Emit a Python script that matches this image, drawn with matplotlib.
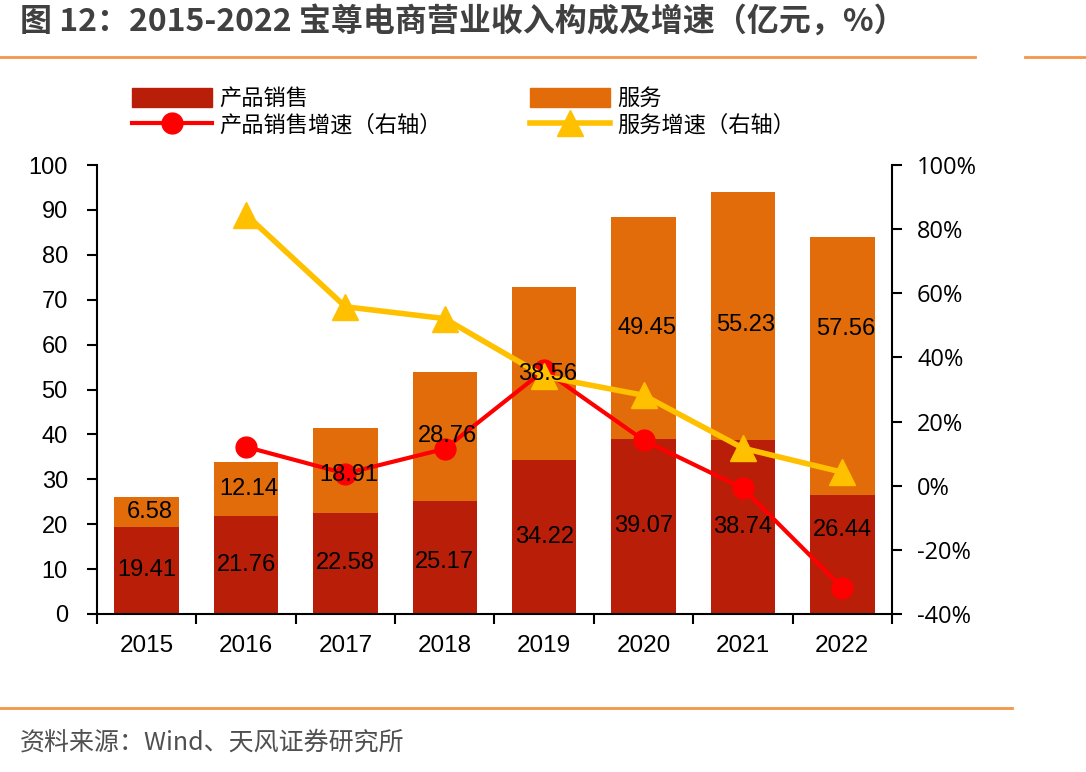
import numpy as np
import matplotlib
matplotlib.use("Agg")
import matplotlib.pyplot as plt
from matplotlib.lines import Line2D
from matplotlib.patches import Patch
from matplotlib.ticker import FuncFormatter, FixedLocator

# ── data ──────────────────────────────────────────────────────────────────────
years        = ["2015", "2016", "2017", "2018", "2019", "2020", "2021", "2022"]
product      = [19.41, 21.76, 22.58, 25.17, 34.22, 39.07, 38.74, 26.44]
service      = [6.58, 12.14, 18.91, 28.76, 38.56, 49.45, 55.23, 57.56]
product_gr   = [np.nan, 12.1, 3.8, 11.5, 36.0, 14.2, -0.8, -31.8]   # %
service_gr   = [np.nan, 84.5, 55.8, 52.1, 34.1, 28.2, 11.7, 4.2]    # %

# label nudges (the original moved a few labels by hand)
prod_lbl_dy = [0, 0, 0, -1, 0, 0, 0, 5.5]
serv_lbl_dy = [0, 0, -1, 0, 0, 0, -2, 8.3]

C_PROD  = "#B91E08"
C_SERV  = "#E36C0A"
C_PLINE = "#FF0000"
C_SLINE = "#FFC000"

CJK  = ["Noto Sans CJK SC", "DejaVu Sans"]
NUM  = ["Liberation Sans", "DejaVu Sans"]
PCT  = ["Open Sans", "DejaVu Sans"]
plt.rcParams["font.family"] = CJK

fig = plt.figure(figsize=(10.86, 7.72), dpi=100)
W, H = 1086, 772

# ── header / footer ───────────────────────────────────────────────────────────
fig.text(20 / W, 1 - 22 / H, "图 12：2015-2022 宝尊电商营业收入构成及增速（亿元，%）",
         fontsize=23, fontweight="bold", color="#404040", va="center", ha="left")
fig.add_artist(Line2D([0, 975 / W], [1 - 57 / H] * 2, color="#F4964A", lw=2))
fig.add_artist(Line2D([1025 / W, 1], [1 - 57 / H] * 2, color="#F4964A", lw=2))
fig.add_artist(Line2D([0, 1012 / W], [1 - 708 / H] * 2, color="#F4964A", lw=2))
fig.text(20 / W, 1 - 743 / H, "资料来源：Wind、天风证券研究所",
         fontsize=18, color="#505050", va="center", ha="left")

# ── main axes ─────────────────────────────────────────────────────────────────
ax = fig.add_axes([97 / W, 1 - 614 / H, (892 - 97) / W, (614 - 165) / H])
x = np.arange(len(years))
bw = 0.65
b1 = ax.bar(x, product, bw, color=C_PROD, zorder=2)
b2 = ax.bar(x, service, bw, bottom=product, color=C_SERV, zorder=2)

ax.set_xlim(-0.5, len(years) - 0.5)
ax.set_ylim(0, 100)
ax.set_yticks(range(0, 101, 10))
ax.set_xticks(x)
ax.set_xticklabels(years)
ax.xaxis.set_minor_locator(FixedLocator(np.arange(-0.5, len(years), 1.0)))
ax.tick_params(axis="x", which="major", length=0, pad=15)
ax.tick_params(axis="x", which="minor", length=7, width=1.5, direction="out")
ax.tick_params(axis="y", length=7, width=1.5, direction="out", pad=14)
for lab in ax.get_xticklabels():
    lab.set_family(NUM)
    lab.set_fontsize(17.5)
for lab in ax.get_yticklabels():
    lab.set_family(NUM)
    lab.set_fontsize(17)
for s in ["top", "right"]:
    ax.spines[s].set_visible(False)
for s in ["left", "bottom"]:
    ax.spines[s].set_linewidth(1.5)

# ── right axis ────────────────────────────────────────────────────────────────
ax2 = ax.twinx()
ax2.set_ylim(-40, 100)
ax2.set_yticks(range(-40, 101, 20))
ax2.yaxis.set_major_formatter(FuncFormatter(lambda v, p: f"{v:.0f}%"))
ax2.tick_params(axis="y", length=7, width=1.5, direction="out", pad=11)
for lab in ax2.get_yticklabels():
    lab.set_family(PCT)
    lab.set_fontsize(17)
for s in ["top", "left", "bottom"]:
    ax2.spines[s].set_visible(False)
ax2.spines["right"].set_linewidth(1.5)

l1, = ax2.plot(x, product_gr, color=C_PLINE, lw=3, marker="o", markersize=15, zorder=3)
l2, = ax2.plot(x, service_gr, color=C_SLINE, lw=4, marker="^", markersize=19, zorder=3)

# ── data labels (on top of lines) ─────────────────────────────────────────────
for i in range(len(years)):
    ax2.text(x[i], product[i] / 2 + prod_lbl_dy[i], f"{product[i]:.2f}",
             transform=ax.transData, ha="center", va="center", fontsize=17,
             family=NUM, zorder=5)
    ax2.text(x[i] + 0.03, product[i] + service[i] / 2 + serv_lbl_dy[i],
             f"{service[i]:.2f}", transform=ax.transData, ha="center",
             va="center", fontsize=17, family=NUM, zorder=5)

# ── legend ────────────────────────────────────────────────────────────────────
handles = [Patch(color=C_PROD), l1, Patch(color=C_SERV), l2]
labels = ["产品销售", "产品销售增速（右轴）", "服务", "服务增速（右轴）"]
leg = fig.legend(handles, labels, ncol=2, loc="upper left",
                 bbox_to_anchor=(121 / W, 1 - 76 / H), frameon=False,
                 fontsize=16, handlelength=3.6, handletextpad=0.3,
                 columnspacing=4.0, labelspacing=0.15, borderpad=0,
                 handleheight=0.9)

fig.savefig("out.png", dpi=100)
